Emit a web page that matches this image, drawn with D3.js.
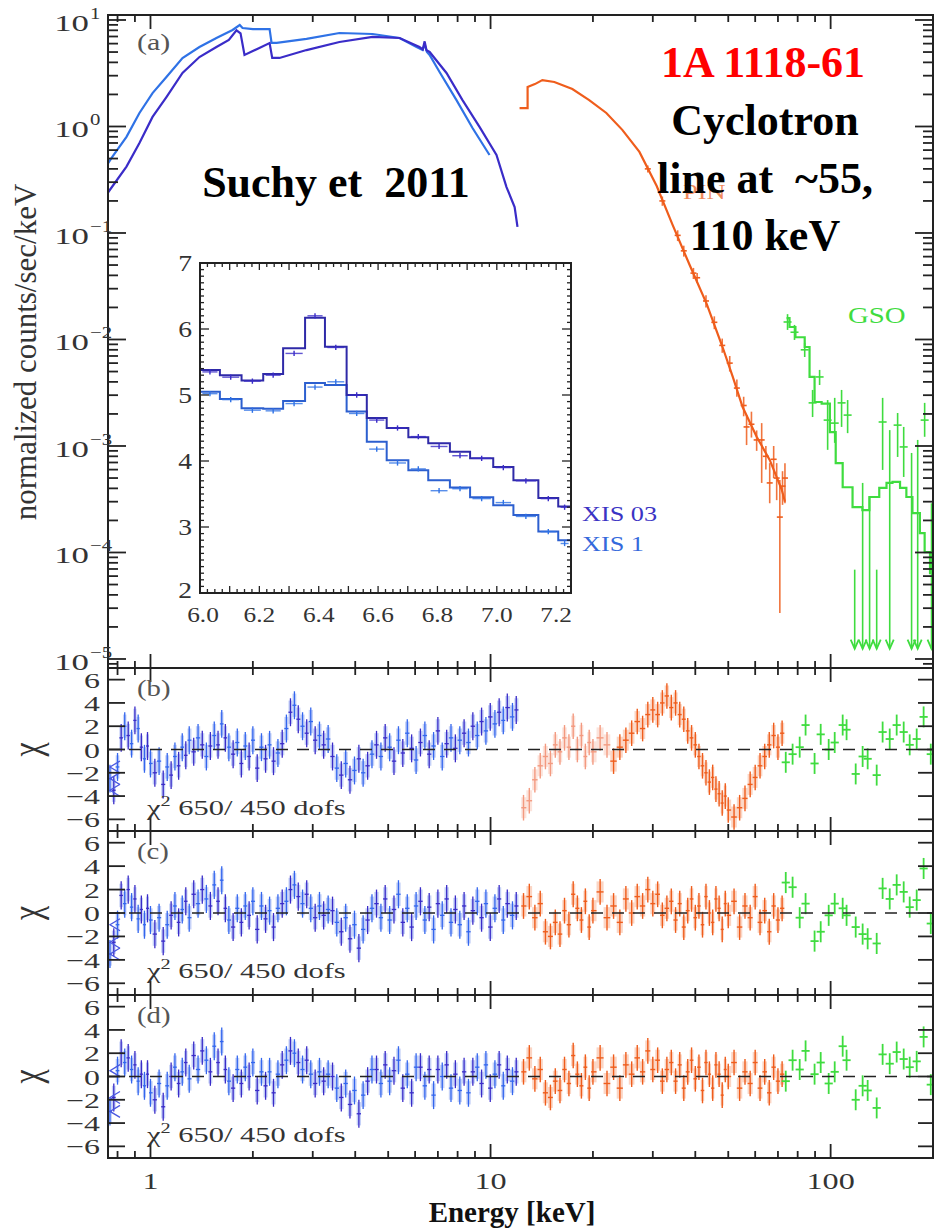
<!DOCTYPE html>
<html>
<head>
<meta charset="utf-8">
<script src="https://cdn.jsdelivr.net/npm/d3@7/dist/d3.min.js"></script>
<style>
body { margin: 0; background: #fff; }
text { font-family: "Liberation Serif", "Times New Roman", serif; }
</style>
</head>
<body>
<div id="chart"></div>
<script>
// ---- panel (a): unfolded spectra ----
var xis1E = [0.75,0.773,0.85,0.928,1.014,1.114,1.242,1.393,1.563,1.743,1.83,1.865,2.0,2.24,2.27,2.35,2.876,3.594,4.497,5.40,6.06,6.31,6.4,6.5,6.62,7.08,7.94,8.85,9.93];
var xis1V = [0.45,0.52,0.80,1.34,2.06,2.92,4.40,5.57,6.78,8.06,8.97,8.4,8.2,8.2,6.1,6.1,6.64,7.55,7.39,6.78,5.57,5.22,5.9,5.0,4.69,3.25,1.77,0.968,0.54];
var xis03E = [0.75,0.85,0.928,1.014,1.114,1.242,1.393,1.563,1.70,1.79,1.84,1.89,2.09,2.24,2.28,2.395,2.876,3.594,4.497,5.40,6.18,6.32,6.4,6.48,6.62,7.42,8.27,9.28,10.41,11.14,11.77,12.0];
var xis03V = [0.24,0.42,0.70,1.23,1.89,3.18,4.49,5.57,6.5,8.0,7.5,4.69,5.46,6.08,4.4,4.4,5.22,6.21,6.93,6.78,5.57,5.3,6.3,5.2,5.01,3.18,1.77,0.99,0.54,0.27,0.175,0.114];
var pinE = [12.17,12.85,12.85,13.5,14.2,15.4,17.4,19.5,21.9,24.4,27.4,30.8,34.3,38.5,43.2,48.1,51.5,55.1,60.6,66.2,69.4,71.8,73.4];
var pinV = [1.49,1.49,2.35,2.5,2.73,2.62,2.25,1.77,1.34,0.93,0.577,0.276,0.119,0.050,0.0216,0.0085,0.0045,0.00232,0.00122,0.00074,0.00051,0.00039,0.0003];
var pinPtE = [29.0,32.0,35.5,37.0,39.5,40.5,43.0,45.5,48.0,50.5,53.0,55.5,56.6,58.5,60.6,62.7,64.5,66.2,68.0,69.4,70.9,72.2,73.4];
var pinPtV = [0.40,0.20,0.095,0.068,0.042,0.038,0.023,0.0145,0.0088,0.006,0.0035,0.0024,0.00151,0.0016,0.00114,0.00114,0.0008,0.00045,0.00075,0.0005,0.000215,0.00042,0.0005];
var pinPtLo = [0.37,0.18,0.084,0.06,0.037,0.034,0.020,0.0125,0.0075,0.005,0.0029,0.0019,0.00102,0.0012,0.0009,0.00045,0.0006,0.00029,0.0005,0.00031,0.000027,0.00028,0.00029];
var pinPtHi = [0.43,0.22,0.106,0.076,0.047,0.042,0.026,0.0165,0.0102,0.007,0.0042,0.0029,0.00195,0.0021,0.0014,0.00164,0.001,0.00069,0.001,0.00069,0.00048,0.00058,0.00069];
var gsoE = [74.2,75.7,78.8,83.9,86.7,89.7,94.1,99.5,103.5,108.5,116,124,130,139,146,152,160,167,174,183,189,196,200];
var gsoV = [0.0159,0.0131,0.0105,0.0085,0.00445,0.00259,0.0025,0.00135,0.00069,0.00041,0.000267,0.00025,0.000332,0.000404,0.00045,0.00046,0.000404,0.000332,0.000234,0.000152,0.000101,0.000064];
var gsoPtE = [74.7,78.3,83.9,88.5,92.8,98,102.8,107.7,112.2,142.2,157.4,164,189];
var gsoPtV = [0.0146,0.0117,0.008,0.00254,0.00445,0.00175,0.00164,0.00254,0.00195,0.00168,0.00157,0.00098,0.00175];
var gsoPtLo = [0.0123,0.0099,0.00685,0.00187,0.00374,0.00092,0.00107,0.00151,0.00132,0.000596,0.000789,0.000512,0.00122];
var gsoPtHi = [0.0173,0.0137,0.0093,0.00336,0.00518,0.0027,0.00283,0.00336,0.0027,0.00283,0.00204,0.00151,0.00254];
var gsoUlE = [117.7,124.2,130.2,136.6,149.2,173,180.3,198];
var gsoUlV = [6.9e-5,0.00045,0.00033,6.9e-5,0.00141,0.00086,0.00114,0.00029];

// ---- inset: Fe line region ----
var insetEdges = [6.0,6.067,6.14,6.213,6.28,6.354,6.421,6.494,6.562,6.629,6.702,6.769,6.842,6.91,6.988,7.056,7.14,7.207,7.25];
var xis03Inset = [5.38,5.30,5.22,5.32,5.71,6.17,5.73,5.0,4.65,4.5,4.36,4.27,4.14,4.04,3.91,3.71,3.44,3.31];
var xis1Inset = [5.05,4.94,4.80,4.79,4.91,5.18,5.15,4.75,4.29,4.01,3.86,3.71,3.6,3.45,3.33,3.18,2.93,2.8];
var xis03InsetPts = [5.35,5.27,5.21,5.30,5.63,6.20,5.72,5.0,4.62,4.5,4.37,4.22,4.08,4.04,3.9,3.7,3.43,3.3];
var xis1InsetPts = [5.02,4.93,4.77,4.76,4.87,5.12,5.20,4.72,4.18,3.97,3.88,3.55,3.58,3.43,3.37,3.16,2.93,2.75];
var insetXTicks = [6.0,6.2,6.4,6.6,6.8,7.0,7.2];
var insetYTicks = [2,3,4,5,6,7];

// ---- residuals (b), (c), (d) ----
var xisResE = [0.76,0.78,0.80,0.82,0.84,0.86,0.88,0.90,0.92,0.94,
  0.96,0.98,1.00,1.03,1.06,1.09,1.12,1.15,1.18,1.21,
  1.24,1.27,1.30,1.34,1.38,1.42,1.46,1.50,1.54,1.58,
  1.62,1.66,1.70,1.75,1.80,1.85,1.90,1.95,2.00,2.06,
  2.12,2.18,2.24,2.30,2.37,2.44,2.51,2.58,2.65,2.72,
  2.80,2.88,2.96,3.05,3.14,3.23,3.33,3.43,3.53,3.64,
  3.75,3.86,3.98,4.10,4.22,4.35,4.48,4.62,4.76,4.90,
  5.05,5.20,5.36,5.52,5.69,5.86,6.04,6.22,6.41,6.60,
  6.80,7.00,7.21,7.43,7.65,7.88,8.12,8.36,8.61,8.87,
  9.14,9.41,9.69,9.98,10.3,10.6,10.9,11.2,11.6,11.9];
var xisResB = [-2.5,-3.5,-1.5, 1.0,2.0,1.2,0.5,2.5,1.8,0.2, -0.8,0.3,-1.2,
  -2.0,-1.0,-3.0,-1.5,-2.2,-0.6,-1.4, 0.2,-0.5,0.8,-0.2,1.0,0.4,-0.6,0.3,
  1.2,0.4,2.2,1.0,0.2, -0.4,0.6,-1.2,0.3,-0.6,0.8,-1.6, 0.2,-0.8,0.4,-1.0,-0.3,0.5,
  1.8,3.2,3.8,2.6, 2.0,1.4,2.4,0.8, 1.2,0.4,0.9,
  -0.6,-1.6,-2.2,-1.2,-2.6,-1.8,-0.8,-2.0,-1.4,-0.4,
  0.4,-0.6,1.0,0.2,-1.0,0.8,-0.3,1.4,0.1,-0.9,
  0.6,1.2,-0.4,0.3,1.6,-0.6,0.5,1.0,0.1,
  0.8,1.4,0.6,2.0,1.2,2.4,1.6,2.8, 2.2,3.2,2.5,3.6,2.8,3.4];
var xisResC = [-3.5,-2.5,-1.0, 1.5,0.8,2.0,0.5,1.2,-0.5,0.3, -1.0,0.4,-0.6,
  -1.8,-0.4,-2.4,-1.0,-0.2,0.6,-0.8, 0.3,1.0,-0.4,1.6,0.8,2.0,1.2,0.6,
  2.4,1.0,2.8,0.4,-0.6, -1.2,0.4,-0.8,0.6,-0.2,1.0,-1.4, 0.6,-0.5,0.2,-1.2,0.4,0.8,
  1.0,2.0,2.4,1.4, 0.8,1.6,0.4,-0.4, 0.6,-0.2,0.3,
  0.2,-0.8,-1.6,-0.4,-2.2,-1.0,-3.0,-1.4,-0.6,0.4,
  0.8,-0.4,1.2,-0.6,0.3,1.6,-0.8,0.4,-1.2,0.6,
  1.0,-0.6,0.5,-1.4,0.8,-0.2,1.2,-0.8,0.3,
  -1.0,0.6,-1.6,0.2,1.0,-0.4,0.8,-1.2, 0.4,1.2,-0.6,0.8,-0.2,0.6];
var xisResD = [-3.0,-1.8,0.5, 2.0,1.2,1.6,0.6,1.0,-0.4,0.2, -0.8,0.2,-1.4,
  -2.0,-0.6,-2.6,-0.8,0.0,0.8,-0.6, 0.4,1.2,-0.2,1.8,0.6,2.2,1.4,0.4,
  2.6,1.2,3.0,0.6,-0.4, -1.0,0.6,-0.6,0.8,0.0,1.2,-1.2, 0.4,-0.8,0.4,-1.4,0.2,1.0,
  1.4,2.2,2.0,1.2, 0.6,1.4,0.2,-0.6, 0.4,-0.4,0.2,
  0.0,-1.0,-1.8,-0.6,-2.4,-1.2,-3.2,-1.6,-0.4,0.6,
  0.6,-0.6,1.0,-0.4,0.5,1.4,-1.0,0.2,-1.4,0.8,
  0.8,-0.8,0.6,-1.6,0.6,0.0,1.0,-1.0,0.2,
  -1.2,0.4,-1.4,0.4,0.8,-0.6,1.0,-1.0, 0.2,1.0,-0.8,0.6,-0.4,0.4];
var pinResE = [12.5,13,13.5,14,14.5,15,15.5,16,16.5,17,17.5,18,18.5,19,19.5,20,21,22,23,24,
  25,26,27,28,29,30,31,32,33,34,35,36,37,38,39,40,41,42,43,44,
  45,46,47,48,49,50,52,54,56,58,60,62,64,66,68,70,72];
var pinResB = [-5.0,-4.4,-2.6,-1.4,-0.6,-1.2,0.4,-0.2,1.0,0.2, 2.0,0.0,1.2,-0.6,0.6,-0.2,1.0,0.4,-1.0,0.2,
  0.8,1.4,2.4,1.8,3.0,3.4,3.0,4.0,4.6,3.6, 4.0,3.0,2.6,1.6,1.0,0.4,-0.6,-1.4,-2.0,-2.8,
  -2.4,-3.4,-3.8,-4.6,-4.0,-5.2,-5.8,-5.0,-4.2,-3.0, -2.4,-1.4,-0.6,0.4,1.2,0.2,1.4];
var pinResC = [0.6,1.4,-0.4,0.8,-1.6,-2.0,-0.8,-1.8,0.2,-1.0, 1.6,0.4,-0.6,1.0,-1.2,0.2,1.8,-0.4,0.6,-0.8,
  1.2,0.0,1.4,0.6,2.0,0.8,1.6,-0.2,0.4,1.0, -0.6,0.8,-1.2,0.2,1.2,-0.4,0.6,-1.0,1.4,0.0,
  -0.8,1.2,0.4,-1.4,0.8,-0.2,1.0,-1.2,0.6,-0.4, 1.4,-0.8,0.2,-1.6,0.6,-0.6,0.4];
var pinResD = [0.4,1.6,-0.2,0.6,-1.4,-1.8,-0.4,-1.2,0.6,-0.6, 1.8,0.2,-0.8,0.8,-1.0,0.4,1.6,-0.6,0.8,-1.0,
  1.0,0.2,1.6,0.4,2.2,0.6,1.4,-0.4,0.6,1.2, -0.4,1.0,-1.0,0.4,1.4,-0.2,0.8,-1.2,1.2,0.2,
  -1.0,1.0,0.2,-1.6,0.6,0.0,1.2,-1.0,0.4,-0.6, 1.2,-1.0,0.4,-1.4,0.8,-0.4,0.2];
var gsoResE = [73.8,77.3,81.1,84.4,89.7,93.5,98.7,102.8,108.5,111.4,118.5,124.2,128.5,136.6,142.2,149.2,156.4,164.0,170.8,179.1,187.7,197];
var gsoResB = [-1.1,-0.4,0.2,2.1,-1.2,1.3,0,0.6,2.1,1.7,-2.1,-0.6,-0.8,-2.2,1.5,0.9,2.1,1.5,0.4,0.9,2.8,-0.4];
var gsoResC = [2.6,2.2,-0.4,0.8,-2.4,-1.6,-0.2,0.8,0.4,-0.2,-1.2,-1.8,-2.2,-2.6,2.1,1.2,2.4,1.8,0.5,1.1,3.8,-0.9];
var gsoResD = [-0.4,1.4,0.6,2.2,0.2,1.2,-0.6,0.4,2.6,1.4,-2.0,-0.8,-1.2,-2.7,1.9,1.1,2.1,1.5,0.8,1.3,3.4,-0.7];
var resTicks = [-6,-4,-2,0,2,4,6];
var xLabelTicks = [1,10,100];

// colours
var cXIS03 = "#3a2cc8", cXIS1 = "#2f72e6", cPIN = "#ef5d1c", cGSO = "#3fdc3f", cAxis = "#222";

var W = 941, H = 1228, L = 108, R = 933;
var svg = d3.select("#chart").append("svg")
    .attr("width", W).attr("height", H)
    .style("background", "#fff");

var x = d3.scaleLog().domain([0.75, 200]).range([L, R]);
var yA = d3.scaleLog().domain([8.23e-6, 11.14]).range([668, 15]);

var panels = [
  {name: "(b)", top: 668, bottom: 831, xis: xisResB, pin: pinResB, gso: gsoResB},
  {name: "(c)", top: 831, bottom: 995, xis: xisResC, pin: pinResC, gso: gsoResC},
  {name: "(d)", top: 995, bottom: 1158, xis: xisResD, pin: pinResD, gso: gsoResD}
];

function isMajor(t) {
  var l = Math.log10(t);
  return Math.abs(l - Math.round(l)) < 1e-9;
}

// stretched text helper (the original figure is wide-set)
function stext(g, px, py, str, size, sx, anchor, fill) {
  return g.append("text")
    .attr("transform", "translate(" + px + "," + py + ") scale(" + sx + ",1)")
    .attr("text-anchor", anchor || "start")
    .style("font-size", size + "px")
    .style("fill", fill || "#333")
    .text(str);
}

// x ticks along a horizontal edge (dir = +1 down, -1 up)
function xTicks(g, y0, dir) {
  x.ticks().forEach(function(t) {
    if (t < 0.75 || t > 200) return;
    var len = isMajor(t) ? 14 : 7;
    g.append("line")
      .attr("x1", x(t)).attr("x2", x(t))
      .attr("y1", y0).attr("y2", y0 + dir * len)
      .attr("stroke", cAxis).attr("stroke-width", 1.8);
  });
}

// ================= panel (a) =================
var gA = svg.append("g");
svg.append("clipPath").attr("id", "clipA").append("rect")
  .attr("x", L).attr("y", 15).attr("width", R - L).attr("height", 668 - 15);
var gAc = gA.append("g").attr("clip-path", "url(#clipA)");

var lineA = d3.line().x(function(d) { return x(d[0]); }).y(function(d) { return yA(d[1]); });

gAc.append("path").datum(d3.zip(xis1E, xis1V))
  .attr("d", lineA).attr("fill", "none").attr("stroke", cXIS1).attr("stroke-width", 2.2);
gAc.append("path").datum(d3.zip(xis03E, xis03V))
  .attr("d", lineA).attr("fill", "none").attr("stroke", cXIS03).attr("stroke-width", 2.2);
gAc.append("path").datum(d3.zip(pinE, pinV))
  .attr("d", lineA).attr("fill", "none").attr("stroke", cPIN).attr("stroke-width", 2.2);

// PIN data error bars
pinPtE.forEach(function(e, i) {
  gAc.append("line").attr("x1", x(e)).attr("x2", x(e))
    .attr("y1", yA(pinPtLo[i])).attr("y2", yA(pinPtHi[i]))
    .attr("stroke", cPIN).attr("stroke-width", 1.6).attr("opacity", 0.85);
  gAc.append("line").attr("x1", x(e) - 3).attr("x2", x(e) + 3)
    .attr("y1", yA(pinPtV[i])).attr("y2", yA(pinPtV[i]))
    .attr("stroke", cPIN).attr("stroke-width", 1.6);
});

// GSO model (histogram)
var gsoPts = d3.zip(gsoE, gsoV.concat([gsoV[gsoV.length - 1]]));
gAc.append("path").datum(gsoPts)
  .attr("d", lineA.curve(d3.curveStepAfter)).attr("fill", "none")
  .attr("stroke", cGSO).attr("stroke-width", 2.2);
lineA.curve(d3.curveLinear);

gsoPtE.forEach(function(e, i) {
  gAc.append("line").attr("x1", x(e)).attr("x2", x(e))
    .attr("y1", yA(gsoPtLo[i])).attr("y2", yA(gsoPtHi[i]))
    .attr("stroke", cGSO).attr("stroke-width", 1.6);
  gAc.append("line").attr("x1", x(e) - 4).attr("x2", x(e) + 4)
    .attr("y1", yA(gsoPtV[i])).attr("y2", yA(gsoPtV[i]))
    .attr("stroke", cGSO).attr("stroke-width", 1.6);
});
var ulBottom = 1.25e-5;
gsoUlE.forEach(function(e, i) {
  var xe = x(e), yb = yA(ulBottom);
  gAc.append("line").attr("x1", xe).attr("x2", xe)
    .attr("y1", yA(gsoUlV[i])).attr("y2", yb)
    .attr("stroke", cGSO).attr("stroke-width", 1.6);
  gAc.append("path")
    .attr("d", "M" + (xe - 4) + "," + (yb - 9) + "L" + xe + "," + yb + "L" + (xe + 4) + "," + (yb - 9))
    .attr("fill", "none").attr("stroke", cGSO).attr("stroke-width", 1.8);
});

// panel (a) frame and ticks
gA.append("rect").attr("x", L).attr("y", 15).attr("width", R - L).attr("height", 668 - 15)
  .attr("fill", "none").attr("stroke", cAxis).attr("stroke-width", 2);
xTicks(gA, 15, 1);
xTicks(gA, 668, -1);
yA.ticks().forEach(function(t) {
  if (t < yA.domain()[0] || t > yA.domain()[1]) return;
  var len = isMajor(t) ? 18 : 10, yy = yA(t);
  gA.append("line").attr("x1", L).attr("x2", L + len).attr("y1", yy).attr("y2", yy)
    .attr("stroke", cAxis).attr("stroke-width", 1.8);
  gA.append("line").attr("x1", R).attr("x2", R - len).attr("y1", yy).attr("y2", yy)
    .attr("stroke", cAxis).attr("stroke-width", 1.8);
  if (isMajor(t)) {
    var ex = Math.round(Math.log10(t));
    stext(gA, 89, yy + 11, "10", 24, 1.45, "end", "#333");
    stext(gA, 90, yy - 1, ex < 0 ? "\u2212" + (-ex) : String(ex), 16, 1.3, "start", "#333");
  }
});
stext(gA, 137, 50, "(a)", 24, 1.25, "start", "#555");
gA.append("text")
  .attr("transform", "translate(36,352) rotate(-90)")
  .attr("text-anchor", "middle").style("font-size", "31px").style("fill", "#333")
  .text("normalized counts/sec/keV");
stext(gA, 848, 323, "GSO", 24, 1.2, "start", cGSO);
stext(gA, 683, 199, "PIN", 22, 1.2, "start", "#ef8a5c");

// ================= inset =================
var xi = d3.scaleLinear().domain([6.0, 7.25]).range([200, 571]);
var yi = d3.scaleLinear().domain([2, 7]).range([593, 263]);
var gI = svg.append("g");
gI.append("rect").attr("x", 200).attr("y", 263).attr("width", 371).attr("height", 330)
  .attr("fill", "#fff");
function stepPts(vals) {
  var p = [];
  vals.forEach(function(v, i) { p.push([insetEdges[i], v]); p.push([insetEdges[i + 1], v]); });
  return p;
}
var lineI = d3.line().x(function(d) { return xi(d[0]); }).y(function(d) { return yi(d[1]); });
[[xis1Inset, xis1InsetPts, cXIS1], [xis03Inset, xis03InsetPts, cXIS03]].forEach(function(s) {
  gI.append("path").datum(stepPts(s[0])).attr("d", lineI)
    .attr("fill", "none").attr("stroke", s[2] === cXIS1 ? "#2c5fcf" : "#2f2aa8").attr("stroke-width", 2);
  s[1].forEach(function(v, i) {
    var a = insetEdges[i], b = insetEdges[i + 1], m = (a + b) / 2;
    gI.append("line").attr("x1", xi(a + 0.008)).attr("x2", xi(b - 0.008))
      .attr("y1", yi(v)).attr("y2", yi(v)).attr("stroke", s[2]).attr("stroke-width", 1.4).attr("opacity", 0.8);
    gI.append("line").attr("x1", xi(m)).attr("x2", xi(m))
      .attr("y1", yi(v - 0.04)).attr("y2", yi(v + 0.04)).attr("stroke", s[2]).attr("stroke-width", 1.4);
  });
});
gI.append("rect").attr("x", 200).attr("y", 263).attr("width", 371).attr("height", 330)
  .attr("fill", "none").attr("stroke", cAxis).attr("stroke-width", 2);
d3.range(240, 291).forEach(function(k) {
  var v = k / 40;
  var len = (k % 4 === 0) ? 7 : 4;
  gI.append("line").attr("x1", xi(v)).attr("x2", xi(v)).attr("y1", 593).attr("y2", 593 - len)
    .attr("stroke", cAxis).attr("stroke-width", 1.3);
  gI.append("line").attr("x1", xi(v)).attr("x2", xi(v)).attr("y1", 263).attr("y2", 263 + len)
    .attr("stroke", cAxis).attr("stroke-width", 1.3);
});
d3.range(20, 71).forEach(function(k) {
  var v = k / 10;
  var len = (k % 10 === 0) ? 9 : 4;
  gI.append("line").attr("x1", 200).attr("x2", 200 + len).attr("y1", yi(v)).attr("y2", yi(v))
    .attr("stroke", cAxis).attr("stroke-width", 1.3);
  gI.append("line").attr("x1", 571).attr("x2", 571 - len).attr("y1", yi(v)).attr("y2", yi(v))
    .attr("stroke", cAxis).attr("stroke-width", 1.3);
});
insetXTicks.forEach(function(t) {
  stext(gI, xi(t) + (t === 6.0 ? 3 : 0), 622, t.toFixed(1), 22, 1.15, "middle", "#333");
});
insetYTicks.forEach(function(t) {
  stext(gI, 192, yi(t) + (t === 2 ? 5 : 8), String(t), 23, 1.2, "end", "#333");
});
stext(gI, 582, 521, "XIS 03", 21, 1.25, "start", "#3b33c4");
stext(gI, 582, 551, "XIS 1", 21, 1.25, "start", "#3569dc");

// ================= residual panels =================
function binEdges(E, i) {
  var lo = i > 0 ? Math.sqrt(E[i - 1] * E[i]) : E[i] * 0.985;
  var hi = i < E.length - 1 ? Math.sqrt(E[i + 1] * E[i]) : E[i] * 1.015;
  return [lo, hi];
}
panels.forEach(function(p, pi) {
  var g = svg.append("g");
  var y = d3.scaleLinear().domain([-7, 7]).range([p.bottom, p.top]);
  var cid = "clipR" + pi;
  svg.append("clipPath").attr("id", cid).append("rect")
    .attr("x", L).attr("y", p.top).attr("width", R - L).attr("height", p.bottom - p.top);
  var gc = g.append("g").attr("clip-path", "url(#" + cid + ")");

  // XIS residuals
  xisResE.forEach(function(e, i) {
    var be = binEdges(xisResE, i), v = p.xis[i];
    var col = i % 2 ? cXIS03 : "#3366ee";
    gc.append("rect").attr("x", x(be[0])).attr("width", x(be[1]) - x(be[0]))
      .attr("y", y(v + 1.0)).attr("height", y(v - 1.0) - y(v + 1.0))
      .attr("fill", "#8ea6f2").attr("opacity", 0.5);
    gc.append("line").attr("x1", x(e)).attr("x2", x(e)).attr("y1", y(v - 1.2)).attr("y2", y(v + 1.2))
      .attr("stroke", col).attr("stroke-width", 1.3);
    gc.append("line").attr("x1", x(be[0])).attr("x2", x(be[1])).attr("y1", y(v)).attr("y2", y(v))
      .attr("stroke", col).attr("stroke-width", 1.3);
  });
  // left-edge arrows
  p.xis.slice(0, 3).forEach(function(v) {
    gc.append("path").attr("d", "M" + (L + 12) + "," + (y(v) - 6) + "L" + (L + 2) + "," + y(v) + "L" + (L + 12) + "," + (y(v) + 6))
      .attr("fill", "none").attr("stroke", "#4a58e0").attr("stroke-width", 1.3);
  });
  // PIN residuals
  pinResE.forEach(function(e, i) {
    var be = binEdges(pinResE, i), v = p.pin[i];
    var light = (pi === 0 && e < 23);
    gc.append("rect").attr("x", x(be[0])).attr("width", x(be[1]) - x(be[0]))
      .attr("y", y(v + 0.9)).attr("height", y(v - 0.9) - y(v + 0.9))
      .attr("fill", light ? "#f8c2b0" : "#f6a27c").attr("opacity", 0.45);
    gc.append("line").attr("x1", x(e)).attr("x2", x(e)).attr("y1", y(v - 1.1)).attr("y2", y(v + 1.1))
      .attr("stroke", light ? "#f39a80" : cPIN).attr("stroke-width", 1.4);
    gc.append("line").attr("x1", x(be[0])).attr("x2", x(be[1])).attr("y1", y(v)).attr("y2", y(v))
      .attr("stroke", light ? "#f39a80" : cPIN).attr("stroke-width", 1.4);
  });
  // GSO residuals
  gsoResE.forEach(function(e, i) {
    var v = p.gso[i];
    gc.append("line").attr("x1", x(e)).attr("x2", x(e)).attr("y1", y(v - 0.9)).attr("y2", y(v + 0.9))
      .attr("stroke", cGSO).attr("stroke-width", 1.8);
    gc.append("line").attr("x1", x(e / 1.028)).attr("x2", x(e * 1.028)).attr("y1", y(v)).attr("y2", y(v))
      .attr("stroke", cGSO).attr("stroke-width", 1.8);
  });
  // zero line
  g.append("line").attr("x1", L).attr("x2", R).attr("y1", y(0)).attr("y2", y(0))
    .attr("stroke", cAxis).attr("stroke-width", 1.5).attr("stroke-dasharray", "12,9");

  // frame + ticks
  g.append("rect").attr("x", L).attr("y", p.top).attr("width", R - L).attr("height", p.bottom - p.top)
    .attr("fill", "none").attr("stroke", cAxis).attr("stroke-width", 2);
  xTicks(g, p.top, 1);
  xTicks(g, p.bottom, -1);
  resTicks.forEach(function(t) {
    g.append("line").attr("x1", L).attr("x2", L + 17).attr("y1", y(t)).attr("y2", y(t))
      .attr("stroke", cAxis).attr("stroke-width", 1.8);
    g.append("line").attr("x1", R).attr("x2", R - 15).attr("y1", y(t)).attr("y2", y(t))
      .attr("stroke", cAxis).attr("stroke-width", 1.8);
    stext(g, 100, y(t) + 8, t < 0 ? "\u2212" + (-t) : String(t), 22, 1.45, "end", "#333");
  });
  g.append("text")
    .attr("transform", "translate(40," + y(0) + ") rotate(-90) scale(1,1.3)")
    .attr("text-anchor", "middle").style("font-size", "32px").style("fill", "#333")
    .text("\u03c7");
  stext(g, 137, p.top + 28, p.name, 23, 1.25, "start", "#555");
  var chi = stext(g, 147, p.top + 147, "", 21, 1.45, "start", "#333");
  chi.append("tspan").text("\u03c7");
  chi.append("tspan").attr("dy", -9).style("font-size", "14px").text("2");
  chi.append("tspan").attr("dy", 9).text(" 650/ 450 dofs");
});

// bottom axis labels
xLabelTicks.forEach(function(t) {
  stext(svg, x(t), 1189, String(t), 23, 1.4, "middle", "#333");
});
svg.append("text").attr("x", 512).attr("y", 1222).attr("text-anchor", "middle")
  .style("font-size", "29px").style("font-weight", "bold").style("fill", "#111")
  .text("Energy [keV]");

// overlay annotations
function bold(str, px, py, col) {
  svg.append("text").attr("x", px).attr("y", py).attr("text-anchor", "middle")
    .style("font-size", "44px").style("font-weight", "bold").style("fill", col).text(str);
}
bold("Suchy et\u00a0 2011", 336, 197, "#000");
bold("1A 1118-61", 763, 77, "#ff0000");
bold("Cyclotron", 765, 135, "#000");
bold("line at\u00a0 ~55,", 765, 193, "#000");
bold("110 keV", 765, 250, "#000");
</script>
</body>
</html>
